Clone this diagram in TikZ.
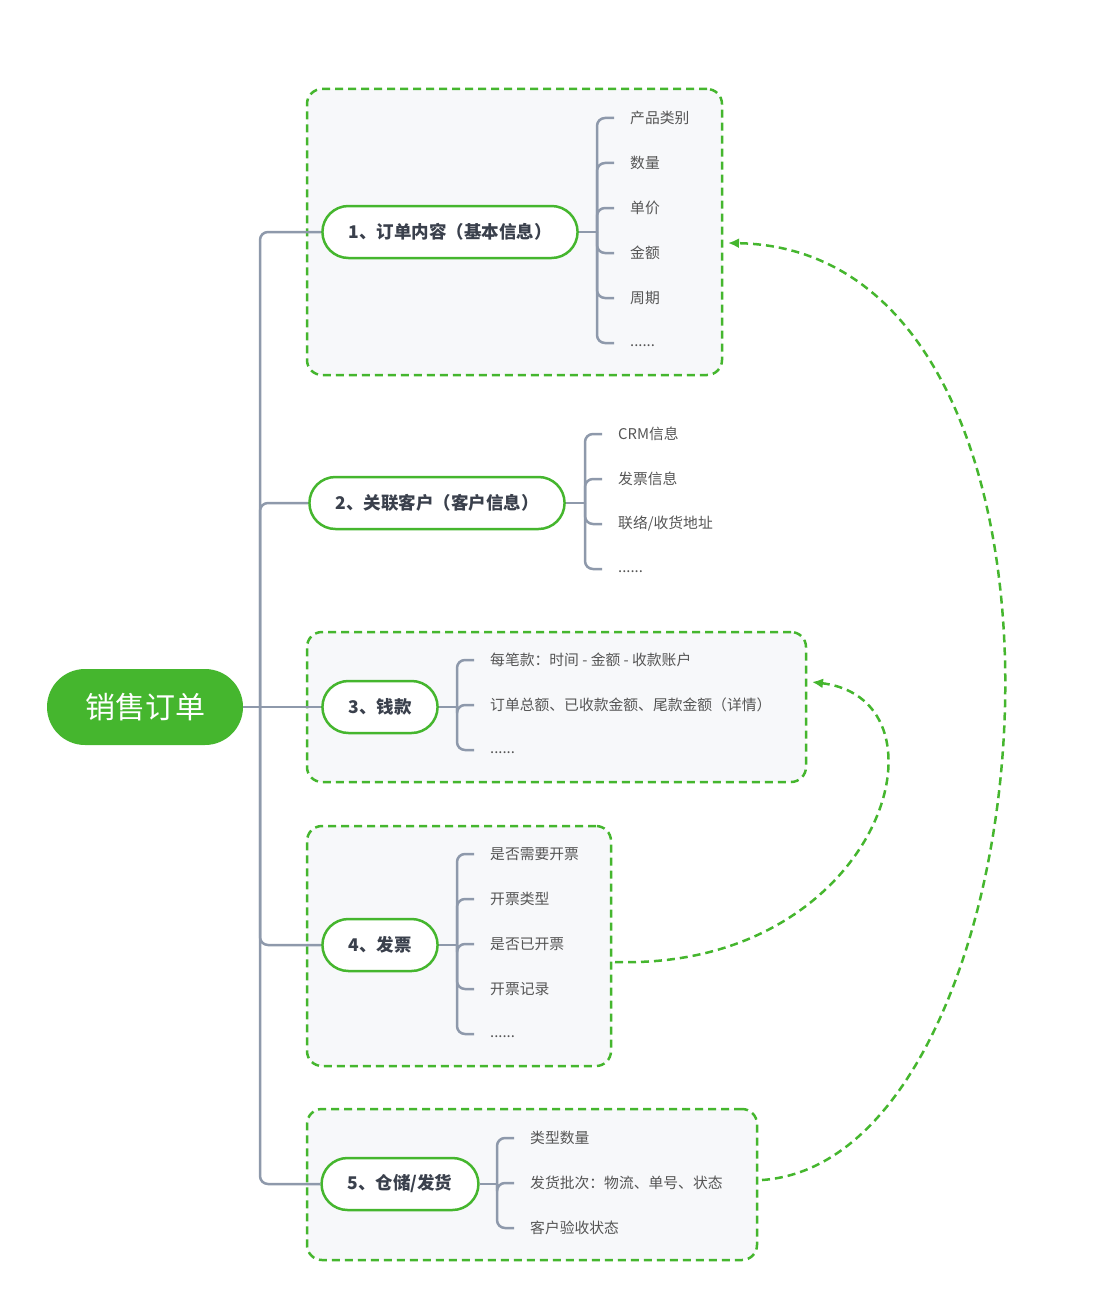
\documentclass[tikz,border=0pt]{standalone}
\usepackage{fontspec}
\setmainfont{Noto Sans CJK SC}
\usetikzlibrary{arrows.meta}

\definecolor{mindgreen}{RGB}{69,182,46}
\definecolor{linegray}{RGB}{142,153,171}
\definecolor{boxfill}{RGB}{247,248,250}
\definecolor{darktext}{RGB}{58,64,76}
\definecolor{leaftext}{RGB}{85,85,85}
\newcommand\moredots{\smash{\raisebox{-3pt}{......}}}

\begin{document}
\begin{tikzpicture}[x=1pt, y=-1pt,
    root/.style={fill=mindgreen, text=white, rounded corners=38pt, minimum width=196pt, minimum height=76pt, font=\fontsize{30}{36}\selectfont},
    topic/.style={draw=mindgreen, line width=2.5pt, fill=white, text=darktext, rounded corners=26pt, minimum height=52pt, inner xsep=26pt, font=\fontsize{17.5}{21}\selectfont\bfseries},
    leaf/.style={anchor=west, inner sep=0pt, text=leaftext, font=\fontsize{14.8}{17}\selectfont},
    groupbox/.style={draw=mindgreen, fill=boxfill, line width=2.5pt, dash pattern=on 8pt off 5pt, rounded corners=15pt, inner sep=0pt},
    branch/.style={draw=linegray, line width=2.5pt, rounded corners=8pt},
    flow/.style={draw=mindgreen, line width=2.5pt, dash pattern=on 8pt off 5pt, -{Latex[length=11pt, width=10pt]}}
]
\useasboundingbox (0,0) rectangle (1100,1300);

% Dashed groups
\node[groupbox, minimum width=415pt, minimum height=286pt] (box1) at (514.5,232) {};
\node[groupbox, minimum width=499pt, minimum height=150pt] (box3) at (556.5,707) {};
\node[groupbox, minimum width=304pt, minimum height=240pt] (box4) at (459,946) {};
\node[groupbox, minimum width=450pt, minimum height=151pt] (box5) at (532,1184.5) {};

% Root and topics
\node[root] (order) at (145,707) {销售订单};
\node[topic] (b1) at (450,232) {1、订单内容（基本信息）};
\node[topic] (b2) at (437,503) {2、关联客户（客户信息）};
\node[topic] (b3) at (380,707) {3、钱款};
\node[topic] (b4) at (380,945) {4、发票};
\node[topic] (b5) at (400,1184) {5、仓储/发货};

% Trunk
\coordinate (hub) at (260,707);
\draw[branch] (order.east) -- (b3.west);
\foreach \b in {b1,b2,b4,b5}
    \draw[branch] (hub) |- (\b.west);

% Brackets
\coordinate (k1) at (597,232);
\coordinate (k2) at (585,503);
\coordinate (k3) at (457,707);
\coordinate (k4) at (457,945);
\coordinate (k5) at (497,1184);

\foreach \t [count=\i] in {产品类别,数量,单价,金额,周期,\moredots} {
    \node[leaf] (l1\i) at (630,73+45*\i) {\t};
    \draw[branch] (k1) |- ([xshift=-16pt]l1\i.west);
}
\foreach \t [count=\i] in {CRM信息,发票信息,联络/收货地址,\moredots} {
    \node[leaf] (l2\i) at (618,389+45*\i) {\t};
    \draw[branch] (k2) |- ([xshift=-16pt]l2\i.west);
}
\foreach \t [count=\i] in {每笔款：时间 - 金额 - 收款账户,订单总额、已收款金额、尾款金额（详情）,\moredots} {
    \node[leaf] (l3\i) at (490,615+45*\i) {\t};
    \draw[branch] (k3) |- ([xshift=-16pt]l3\i.west);
}
\foreach \t [count=\i] in {是否需要开票,开票类型,是否已开票,开票记录,\moredots} {
    \node[leaf] (l4\i) at (490,809+45*\i) {\t};
    \draw[branch] (k4) |- ([xshift=-16pt]l4\i.west);
}
\foreach \t [count=\i] in {类型数量,发货批次：物流、单号、状态,客户验收状态} {
    \node[leaf] (l5\i) at (530,1093+45*\i) {\t};
    \draw[branch] (k5) |- ([xshift=-16pt]l5\i.west);
}
\foreach \i in {1,...,5}
    \draw[branch] (b\i.east) -- (k\i);

% Flow arrows
\coordinate (f1s) at (762,1180);
\coordinate (f1e) at (728,243);
\coordinate (f2s) at (615,962);
\coordinate (f2e) at (812,682);
\draw[flow] (f1s) .. controls (1055,1160) and (1125,250) .. (f1e);
\draw[flow] (f2s) .. controls (880,970) and (960,700) .. (f2e);
\end{tikzpicture}
\end{document}
